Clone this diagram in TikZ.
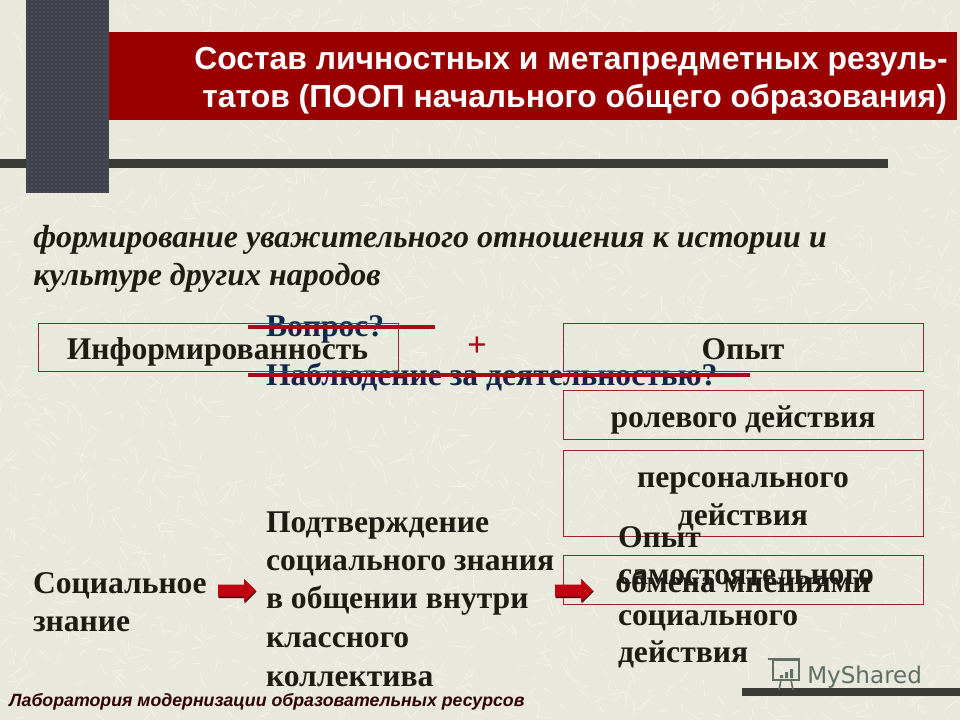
\documentclass[tikz,border=0pt]{standalone}
\usepackage{fontspec}
\setmainfont{Liberation Serif}
\newfontfamily\sansf{Liberation Sans}
\newfontfamily\logof{DejaVu Sans}
\usetikzlibrary{patterns}
\definecolor{bgc}{HTML}{E8E8DC}
\definecolor{speck}{HTML}{F3F3EA}
\definecolor{banner}{HTML}{990000}
\definecolor{slate}{HTML}{40424F}
\definecolor{rulec}{HTML}{3A3A36}
\definecolor{ink}{HTML}{1C1C14}
\definecolor{navy}{HTML}{14264A}
\definecolor{boxc}{HTML}{8E2A2A}
\definecolor{strike}{HTML}{A80C14}
\definecolor{arrowc}{HTML}{C00010}
\definecolor{logoc}{HTML}{5F6F66}
\tikzset{
  x=0.75pt,y=-0.75pt,
  txt/.style={anchor=base west,inner sep=0pt,outer sep=0pt,text=ink,font=\fontsize{23.7}{28}\selectfont\bfseries},
  titletxt/.style={anchor=base,inner sep=0pt,text=white,font=\sansf\fontsize{23.9}{28}\selectfont\bfseries},
  headtxt/.style={anchor=base west,inner sep=0pt,text=ink,font=\fontsize{24}{28}\selectfont\bfseries\itshape},
  framebox/.style={draw=boxc,line width=0.75pt,anchor=north west,inner sep=0pt,outer sep=0pt},
  boxtxt/.style={anchor=base,inner sep=0pt,text=ink,font=\fontsize{23.7}{28}\selectfont\bfseries},
  redline/.style={draw=strike,line width=2.6pt},
  blockarrow/.pic={
    \fill[black!60!arrowc] (0.5,-5.5) -- (26.5,-5.5) -- (26.5,-11) -- (38.5,1) -- (26.5,13) -- (26.5,7.5) -- (0.5,7.5) -- cycle;
    \fill[arrowc] (0,-6) -- (26,-6) -- (26,-11.5) -- (38,0) -- (26,11.5) -- (26,6) -- (0,6) -- cycle;
  },
}
\begin{document}
\begin{tikzpicture}
\useasboundingbox (0,0) rectangle (960,720);
\fill[bgc] (0,0) rectangle (960,720);
% paper texture
\pgfmathsetseed{4242}
\foreach \i in {1,...,2600}{
  \pgfmathsetmacro{\px}{rnd*960}
  \pgfmathsetmacro{\py}{rnd*720}
  \pgfmathsetmacro{\pa}{rnd*360}
  \pgfmathsetmacro{\pl}{5+rnd*13}
  \draw[speck,line width=0.55pt] (\px,\py) -- ++({\pl*cos(\pa)},{\pl*sin(\pa)});
}
% rules, block, banner
\fill[rulec] (0,159) rectangle (888,168);
\fill[rulec] (742,688) rectangle (960,696);
\fill[banner] (109,32) rectangle (957,120);
\fill[slate] (26,0) rectangle (109,193);
\fill[pattern=dots,pattern color=black!55] (26,0) rectangle (109,193);
% title
\node[titletxt] (t1) at (571,70) {Состав личностных и метапредметных резуль-};
\node[titletxt] (t2) at (574.5,108) {татов (ПООП начального общего образования)};
% heading
\node[headtxt] (h1) at (33,247.5) {формирование уважительного отношения к истории и};
\node[headtxt] (h2) at (33,285.5) {культуре других народов};
% text under the frames
\node[txt,text=navy] (q1) at (266,336) {Вопрос?};
\node[txt,text=navy] (q2) at (266,385) {Наблюдение за деятельностью?};
% frames
\node[framebox,minimum width=270pt,minimum height=36pt] (b1) at (38,323) {};
\node[framebox,minimum width=270pt,minimum height=36pt] (b2) at (563,323) {};
\node[framebox,minimum width=270pt,minimum height=37pt] (b3) at (563,390) {};
\node[framebox,minimum width=270pt,minimum height=65pt] (b4) at (563,450) {};
\node[framebox,minimum width=270pt,minimum height=37pt] (b5) at (563,555) {};
\node[boxtxt] (b1t) at (217.5,359) {Информированность};
\node[boxtxt,text=strike,font=\fontsize{26}{28}\selectfont\bfseries] (plus) at (477,356) {+};
\node[boxtxt] (b2t) at (743,359) {Опыт};
\node[boxtxt] (b3t) at (743,427) {ролевого действия};
\node[boxtxt] (b4t) at (743,487) {персонального};
\node[boxtxt] (b4u) at (743,525) {действия};
% strike lines
\coordinate (s1a) at (248,327); \coordinate (s1b) at (435,327);
\coordinate (s2a) at (248,375); \coordinate (s2b) at (750,375);
\draw[redline] (s1a) -- (s1b);
\draw[redline] (s2a) -- (s2b);
% bottom row
\node[txt] (c1) at (33,593) {Социальное};
\node[txt] (c2) at (33,631) {знание};
\node[txt] (d1) at (266,532) {Подтверждение};
\node[txt] (d2) at (266,570) {социального знания};
\node[txt] (d3) at (266,608) {в общении внутри};
\node[txt] (d4) at (266,647) {классного};
\node[txt] (d5) at (266,686) {коллектива};
\node[txt] (e1) at (618,547) {Опыт};
\node[txt] (e2) at (618,584) {самостоятельного};
\node[txt] (e3) at (618,625) {социального};
\node[txt] (e4) at (618,662) {действия};
\node[boxtxt] (b5t) at (743,592) {обмена мнениями};
\pic at (218,590.5) {blockarrow};
\pic at (555,590.5) {blockarrow};
% footer
\node[anchor=base west,inner sep=0pt,text=black!70!banner,font=\sansf\fontsize{13.3}{15}\selectfont\bfseries\itshape] (foot) at (9,706) {Лаборатория модернизации образовательных ресурсов};
% watermark
\node[anchor=base west,inner sep=0pt,text=logoc,font=\logof\fontsize{17.3}{20}\selectfont] (logo) at (807,683) {MyShared};
\draw[logoc,line width=1.2pt] (773,660) rectangle (799,680);
\draw[logoc,line width=1.2pt] (768,659) -- (800,659);
\fill[logoc] (780,675) rectangle (783,678) (785,672) rectangle (788,678) (790,669) rectangle (793,678);
\draw[logoc,line width=1.2pt] (781,680) -- (779,690) (791,680) -- (793,690);
\end{tikzpicture}
\end{document}
